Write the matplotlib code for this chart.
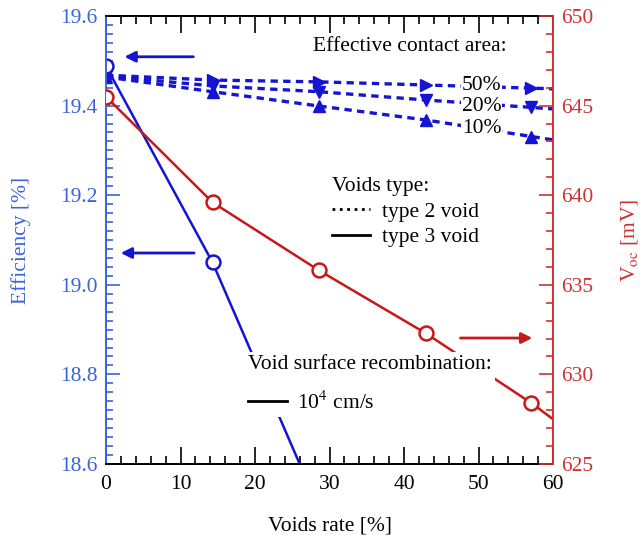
import numpy as np
import matplotlib
matplotlib.use('Agg')
import matplotlib.pyplot as plt
from matplotlib.lines import Line2D
from matplotlib.ticker import MultipleLocator

plt.rcParams['font.family'] = ['Liberation Serif', 'DejaVu Serif']
plt.rcParams['mathtext.fontset'] = 'stix'

# data
voids = [0, 14.3, 28.6, 42.9, 57.1, 60]          # last point only extends the line to the frame
eff_type3 = [19.488, 19.05, 18.50]                  # efficiency, type 3 void (clipped below 18.6)
voc_type3 = [645.5, 639.6, 635.8, 632.3, 628.4, 627.5]
eff_50 = [19.468, 19.457, 19.453, 19.446, 19.439, 19.4375]
eff_20 = [19.466, 19.444, 19.431, 19.4125, 19.396, 19.3925]
eff_10 = [19.464, 19.431, 19.399, 19.368, 19.331, 19.3235]
area_labels = ['50%', '20%', '10%']

blue = '#1414d2'
blue_txt = '#3a62dc'
red = '#c81818'
red_txt = '#cc3333'
fs = 15.5

fig = plt.figure(figsize=(6.4, 5.35), dpi=100)
ax = fig.add_axes([106 / 640, 1 - 464 / 535, 447 / 640, 448 / 535])
ax2 = ax.twinx()

mk = [0, 1, 2, 3, 4]
# type 2 void, dashed, three contact areas
ax.plot(voids, eff_50, color=blue, ls=(0, (2.2, 1.6)), lw=2.4, marker='>', ms=9, markevery=mk)
ax.plot(voids, eff_20, color=blue, ls=(0, (2.2, 1.6)), lw=2.4, marker='v', ms=9, markevery=mk)
ax.plot(voids, eff_10, color=blue, ls=(0, (2.2, 1.6)), lw=2.4, marker='^', ms=9, markevery=mk)
# type 3 void, solid
ax.plot(voids[:3], eff_type3, color=blue, lw=1.8, marker='o', ms=10, mfc='white', mew=1.8)
ax2.plot(voids, voc_type3, color=red, lw=1.8, marker='o', ms=10, mfc='white', mew=1.8,
         markevery=mk)

ax.set_xlim(0, 60)
ax.set_ylim(18.6, 19.6)
ax2.set_ylim(625, 650)
ax.xaxis.set_major_locator(MultipleLocator(10))
ax.xaxis.set_minor_locator(MultipleLocator(2))
ax.yaxis.set_major_locator(MultipleLocator(0.2))
ax.yaxis.set_minor_locator(MultipleLocator(0.02))
ax2.yaxis.set_major_locator(MultipleLocator(5))
ax2.yaxis.set_minor_locator(MultipleLocator(1))
ax.yaxis.set_major_formatter(plt.FormatStrFormatter('%.1f'))

ax.tick_params(axis='x', which='both', direction='in', top=True, colors='black',
               labelsize=fs, pad=8)
ax.tick_params(axis='x', which='major', length=12, width=1.2)
ax.tick_params(axis='x', which='minor', length=6, width=1.2)
ax.tick_params(axis='y', which='both', direction='in', colors=blue_txt, labelsize=fs, pad=6)
ax.tick_params(axis='y', which='major', length=10, width=1.2)
ax.tick_params(axis='y', which='minor', length=5, width=1.2)
ax2.tick_params(axis='y', which='both', direction='in', colors=red_txt, labelsize=fs, pad=6)
ax2.tick_params(axis='y', which='major', length=10, width=1.2)
ax2.tick_params(axis='y', which='minor', length=5, width=1.2)

for s in ['top', 'bottom', 'left', 'right']:
    ax.spines[s].set_linewidth(1.4)
    ax2.spines[s].set_linewidth(1.4)
ax.spines['left'].set_color(blue_txt)
ax.spines['right'].set_visible(False)
ax2.spines['left'].set_visible(False)
ax2.spines['top'].set_visible(False)
ax2.spines['bottom'].set_visible(False)
ax2.spines['right'].set_color(red_txt)

ax.set_xlabel('Voids rate [%]', fontsize=fs, labelpad=16)
ax.set_ylabel('Efficiency [%]', fontsize=fs, color=blue_txt, labelpad=21)
ax2.set_ylabel(r'V$_\mathrm{oc}$ [mV]', fontsize=fs, color=red_txt, labelpad=18)

# arrows pointing at the axes
ax.annotate('', xy=(2.1, 19.509), xytext=(12.1, 19.509),
            arrowprops=dict(arrowstyle='-|>', color=blue, lw=2, mutation_scale=16))
ax.annotate('', xy=(1.6, 19.071), xytext=(12.2, 19.071),
            arrowprops=dict(arrowstyle='-|>', color=blue, lw=2, mutation_scale=16))
ax2.annotate('', xy=(57.6, 632.03), xytext=(47.2, 632.03),
             arrowprops=dict(arrowstyle='-|>', color=red, lw=2, mutation_scale=16))

# texts
ax2.text(0.463, 0.931, 'Effective contact area:', transform=ax.transAxes, fontsize=fs,
         va='center', ha='left')
for lab, yy in zip(area_labels, [0.845, 0.799, 0.749]):
    ax2.text(0.796, yy, lab, transform=ax.transAxes, fontsize=fs, va='center', ha='left',
             bbox=dict(facecolor='white', edgecolor='none', pad=0.5), zorder=5)

h1 = [Line2D([], [], color='black', ls=':', lw=2),
      Line2D([], [], color='black', ls='-', lw=2)]
leg1 = ax2.legend(h1, ['type 2 void', 'type 3 void'], title='Voids type:',
                  title_fontsize=fs, fontsize=fs, frameon=False, alignment='left',
                  loc='upper left', bbox_to_anchor=(0.505, 0.64), borderpad=0,
                  borderaxespad=0, handlelength=1.8, handletextpad=0.55,
                  labelspacing=0.25)
ax2.add_artist(leg1)
h2 = [Line2D([], [], color='black', ls='-', lw=2)]
leg2 = ax2.legend(h2, [r'10$^4$ cm/s'], title='Void surface recombination:',
                  title_fontsize=fs, fontsize=fs, frameon=True, alignment='left',
                  loc='upper left', bbox_to_anchor=(0.31, 0.25), borderpad=0.15,
                  borderaxespad=0, handlelength=1.8, handletextpad=0.5,
                  labelspacing=0.8, fancybox=False, framealpha=1,
                  facecolor='white', edgecolor='none')
leg2.set_zorder(6)

fig.savefig('out.png', dpi=100)
